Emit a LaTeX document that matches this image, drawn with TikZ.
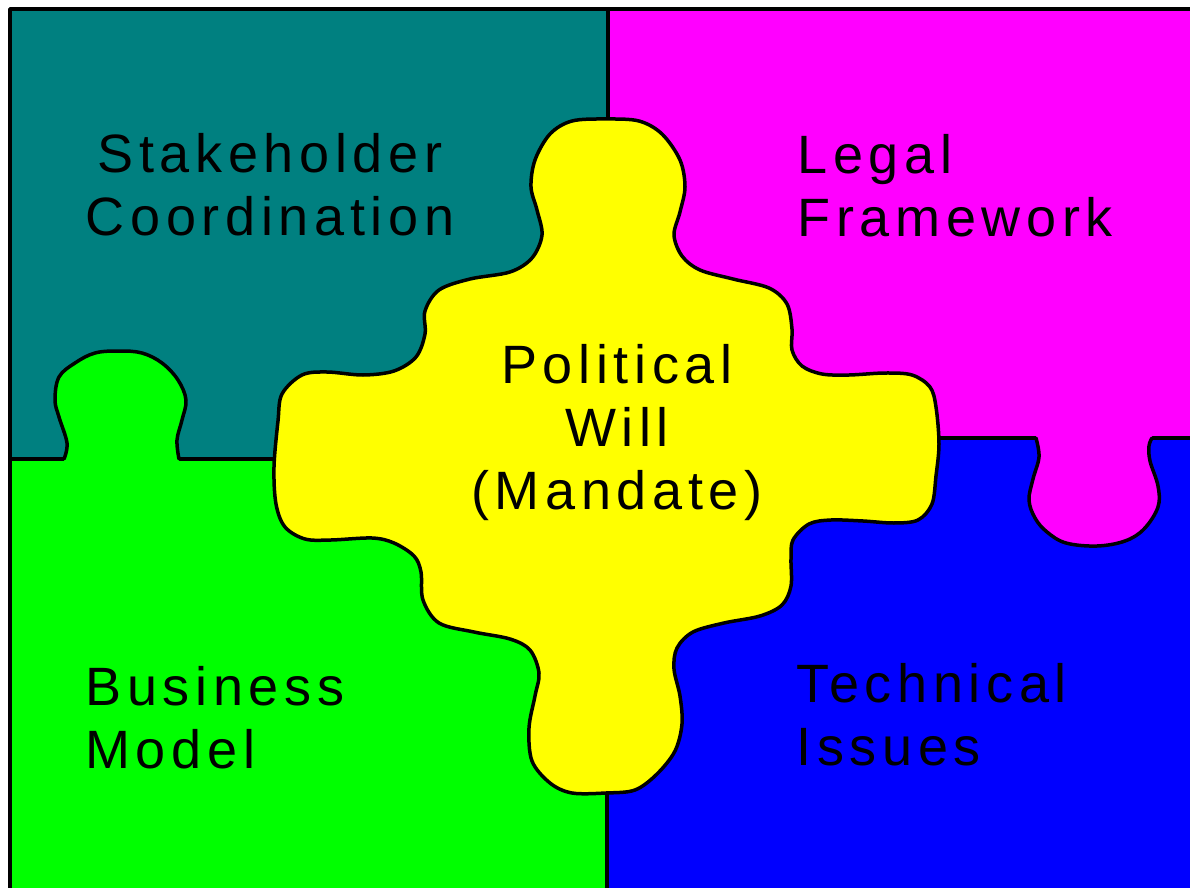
\documentclass[tikz,border=0pt]{standalone}
\usepackage{fontspec}
\setmainfont{Liberation Sans}[LetterSpace=10.5]
\definecolor{pteal}{HTML}{008080}
\definecolor{pmag}{HTML}{FF00FF}
\definecolor{pgreen}{HTML}{00FF00}
\definecolor{pblue}{HTML}{0000FF}
\definecolor{pyellow}{HTML}{FFFF00}
\tikzset{
  lbl/.style={inner sep=0pt, font=\fontsize{27}{31}\selectfont, text=black},
  edge/.style={draw=black, line width=1.75pt, line join=round, line cap=round},
}
\begin{document}
\begin{tikzpicture}[x=0.5pt,y=-0.5pt]
\useasboundingbox (0,0) rectangle (1190,888);
\clip (0,0) rectangle (1190,888);
\fill[white] (0,0) rectangle (1190,888);
% quadrants
\fill[pteal] (10,9) rectangle (608,459);
\fill[pmag] (608,9) rectangle (1200,438);
\fill[pgreen] (10,459) rectangle (607,900);
\fill[pblue] (607,438) rectangle (1200,900);
% dividers
\draw[edge] (10,459) -- (300,459);
\draw[edge] (930,438) -- (1200,438);
\draw[edge] (608,9) -- (608,140);
\draw[edge] (607,770) -- (607,900);
% green knob
\fill[pgreen] plot[smooth, tension=0.6] coordinates {(64,459) (67,443) (59,417) (55,400) (59,377) (75,363) (95,353) (119,351) (142,353) (162,363) (178,380) (186,400) (182,420) (177,440) (179,459)} -- (179,464) -- (64,464) -- cycle;
\draw[edge] plot[smooth, tension=0.6] coordinates {(64,459) (67,443) (59,417) (55,400) (59,377) (75,363) (95,353) (119,351) (142,353) (162,363) (178,380) (186,400) (182,420) (177,440) (179,459)};
% magenta knob
\fill[pmag] plot[smooth, tension=0.6] coordinates {(1036,438) (1039,457) (1033,479) (1029,500) (1035,518) (1047,532) (1066,543) (1097,546) (1125,541) (1144,529) (1158,507) (1158,486) (1150,461) (1149,446) (1152,438)} -- (1152,433) -- (1036,433) -- cycle;
\draw[edge] plot[smooth, tension=0.6] coordinates {(1036,438) (1039,457) (1033,479) (1029,500) (1035,518) (1047,532) (1066,543) (1097,546) (1125,541) (1144,529) (1158,507) (1158,486) (1150,461) (1149,446) (1152,438)};
% yellow centre piece
\filldraw[edge, fill=pyellow] plot[smooth cycle, tension=0.55] coordinates {
(606,119) (639,121) (662,134) (680,160) (685,187) (680,212) (674,235) (682,256) (700,270) (733,279) (769,288) (787,304) (792,329) (792,350) (802,366) (822,374) (849,375) (885,373) (912,375) (930,387) (936,407) (939,444) (936,476) (932,504) (918,520) (894,523) (863,521) (831,520) (809,524) (793,540) (791,559) (791,586) (782,605) (760,616) (724,623) (693,632) (677,648) (674,669) (680,696) (682,724) (675,751) (657,774) (635,790) (606,793) (572,793) (550,783) (532,761) (529,728) (535,696) (539,673) (530,650) (510,639) (474,632) (439,623) (423,600) (421,572) (414,556) (394,543) (372,538) (331,540) (305,539) (285,527) (276,504) (274,467) (278,421) (282,394) (302,375) (327,372) (363,375) (394,371) (416,357) (425,334) (425,311) (439,290) (470,279) (510,272) (532,258) (542,235) (537,210) (531,187) (535,160) (550,134) (572,121)};
% outer frame
\draw[edge] (1200,9) -- (10,9) -- (10,900);
% labels
\node[lbl, anchor=base] (stk1) at (270,173) {Stakeholder};
\node[lbl, anchor=base] (stk2) at (270,235) {Coordination};
\node[lbl, anchor=base west] (leg1) at (797,174) {Legal};
\node[lbl, anchor=base west] (leg2) at (797,236) {Framework};
\node[lbl, anchor=base] (pol1) at (617,383) {Political};
\node[lbl, anchor=base] (pol2) at (617,446) {Will};
\node[lbl, anchor=base] (pol3) at (617,509) {(Mandate)};
\node[lbl, anchor=base west] (bus1) at (85,705) {Business};
\node[lbl, anchor=base west] (bus2) at (85,768) {Model};
\node[lbl, anchor=base west] (tec1) at (796,702) {Technical};
\node[lbl, anchor=base west] (tec2) at (796,765) {Issues};
\end{tikzpicture}
\end{document}
